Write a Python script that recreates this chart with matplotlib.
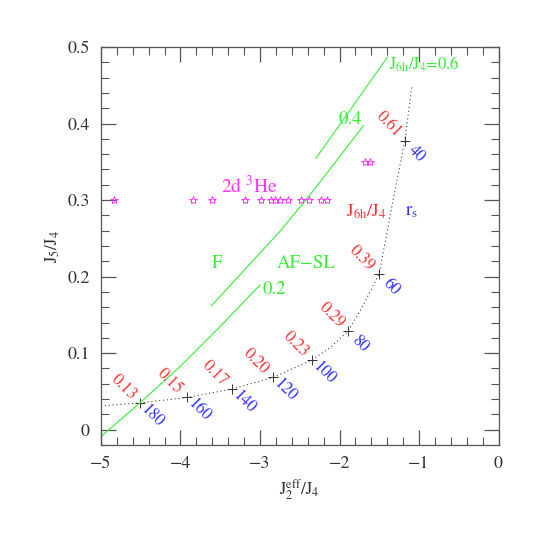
import matplotlib
matplotlib.use("Agg")
import matplotlib.pyplot as plt
from matplotlib.ticker import MultipleLocator

plt.rcParams['font.family'] = ['STIXGeneral', 'DejaVu Serif']
plt.rcParams['mathtext.fontset'] = 'stix'

# dotted curve (r_s path)
curve_x = [-5.0, -4.51, -3.92, -3.36, -2.84, -2.35, -2.12, -1.89, -1.70, -1.50, -1.35, -1.18, -1.09]
curve_y = [0.031, 0.035, 0.042, 0.053, 0.068, 0.091, 0.107, 0.129, 0.163, 0.204, 0.287, 0.377, 0.448]

# marked points along the curve
pt_x = [-4.509, -3.922, -3.356, -2.84, -2.346, -1.889, -1.503, -1.176]
pt_y = [0.0348, 0.0422, 0.0531, 0.0683, 0.091, 0.1289, 0.2037, 0.3773]
j6h_labels = ['0.13', '0.15', '0.17', '0.20', '0.23', '0.29', '0.39', '0.61']
rs_labels = ['180', '160', '140', '120', '100', '80', '60', '40']

# green boundary lines J6h/J4 = 0.2, 0.4, 0.6
g02_x = [-5.0, -4.51, -4.0, -3.5, -3.0]
g02_y = [-0.009, 0.035, 0.083, 0.135, 0.189]
g04_x = [-3.61, -2.75, -2.37, -2.22, -1.70]
g04_y = [0.162, 0.259, 0.307, 0.327, 0.397]
g06_x = [-2.296, -1.85, -1.399]
g06_y = [0.3547, 0.420, 0.4865]

# 2d 3He stars
star_x = [-4.832, -3.842, -3.598, -3.194, -2.992, -2.866, -2.816, -2.749, -2.648,
          -2.487, -2.383, -2.235, -2.159, -1.68, -1.617]
star_y = [0.3] * 13 + [0.35, 0.35]

GREEN = '#33ee33'
RED = '#ff3333'
BLUE = '#3333ff'
MAG = '#ff33ff'
AX = '#555555'

fig = plt.figure(figsize=(5.45, 5.45), dpi=100)
ax = fig.add_axes([0.1853, 0.1835, 0.7294, 0.7303])

ax.plot(curve_x, curve_y, color='#444444', lw=0.8, ls=(0, (1, 2.5)))
ax.plot(pt_x, pt_y, ls='none', marker='+', ms=7, mew=0.7, color='#333333')
for x, y, a, b in zip(pt_x, pt_y, j6h_labels, rs_labels):
    ax.annotate(a, (x, y), xytext=(-12, 11.5), textcoords='offset points',
                rotation=-45, ha='center', va='center', color=RED, fontsize=12,
                rotation_mode='anchor')
    ax.annotate(b, (x, y), xytext=(8.6, -9.4), textcoords='offset points',
                rotation=-45, ha='center', va='center', color=BLUE, fontsize=12,
                rotation_mode='anchor')

for gx, gy in ((g02_x, g02_y), (g04_x, g04_y), (g06_x, g06_y)):
    ax.plot(gx, gy, color=GREEN, lw=0.8)

ax.plot(star_x, star_y, ls='none', marker='*', ms=6, mfc='none', mec=MAG, mew=0.7)

ax.text(-1.38, 0.478, r'J$_{\rm 6h}$/J$_{\rm 4}$=0.6', color=GREEN, fontsize=12, ha='left', va='center')
ax.text(-1.868, 0.405, '0.4', color=GREEN, fontsize=13.5, ha='center', va='center')
ax.text(-2.82, 0.183, '0.2', color=GREEN, fontsize=13.5, ha='center', va='center')
ax.text(-3.545, 0.2176, 'F', color=GREEN, fontsize=13.5, ha='center', va='center')
ax.text(-2.42, 0.2176, 'AF\u2212SL', color=GREEN, fontsize=13.5, ha='center', va='center')
ax.text(-3.13, 0.318, r'2d $^{\rm 3}$He', color=MAG, fontsize=14, ha='center', va='center')
ax.text(-1.667, 0.285, r'J$_{\rm 6h}$/J$_{\rm 4}$', color=RED, fontsize=13, ha='center', va='center')
ax.text(-1.09, 0.285, r'r$_{\rm s}$', color=BLUE, fontsize=13.5, ha='center', va='center')

ax.set_xlim(-5, 0)
ax.set_ylim(-0.02, 0.5)
ax.xaxis.set_major_locator(MultipleLocator(1))
ax.xaxis.set_minor_locator(MultipleLocator(0.2))
ax.yaxis.set_major_locator(MultipleLocator(0.1))
ax.yaxis.set_minor_locator(MultipleLocator(0.02))
ax.xaxis.set_major_formatter(plt.FuncFormatter(lambda v, p: ('%g' % v).replace('-', '\u2212')))
ax.yaxis.set_major_formatter(plt.FuncFormatter(lambda v, p: ('%g' % v).replace('-', '\u2212')))
ax.tick_params(which='both', direction='in', top=True, right=True, color=AX, labelcolor='#333333')
ax.tick_params(which='major', length=11, width=0.9, labelsize=13, pad=8)
ax.tick_params(which='minor', length=6, width=0.8)
for s in ax.spines.values():
    s.set_color(AX)
    s.set_linewidth(0.9)

ax.set_xlabel(r'J$_{\rm 2}^{\rm eff}$/J$_{\rm 4}$', fontsize=12.5, color='#333333')
ax.set_ylabel(r'J$_{\rm 5}$/J$_{\rm 4}$', fontsize=12.5, color='#333333')

fig.savefig('out.png', dpi=100)
